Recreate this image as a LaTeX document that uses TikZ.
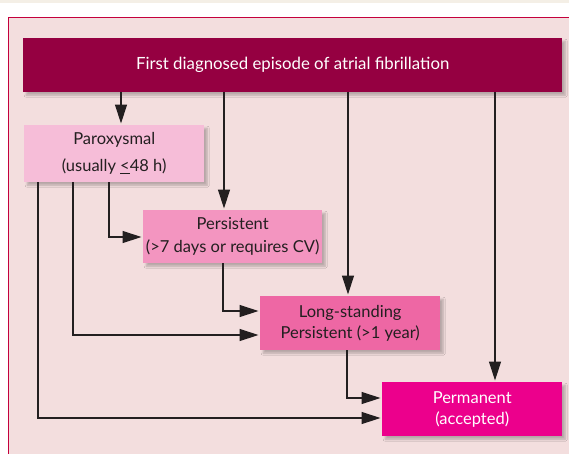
\documentclass[tikz,border=0pt]{standalone}
\usepackage{fontspec}
\setmainfont{Lato}
\usetikzlibrary{arrows.meta,shadows.blur}

\definecolor{cream}{HTML}{F4EFE6}
\definecolor{panelbg}{HTML}{F3DEDE}
\definecolor{crimson}{HTML}{C4003C}
\definecolor{wine}{HTML}{950041}
\definecolor{pinkA}{HTML}{F6BDD8}
\definecolor{pinkB}{HTML}{F395C0}
\definecolor{pinkC}{HTML}{EE67A4}
\definecolor{pinkD}{HTML}{EC008C}
\definecolor{ink}{HTML}{231F20}

\tikzset{
  stagebox/.style={anchor=north west, inner sep=0pt, align=center,
    font=\fontsize{16.5}{21}\selectfont, text=ink,
    blur shadow={shadow xshift=3pt, shadow yshift=-3pt, shadow opacity=25, shadow blur steps=6}},
  flow/.style={draw=ink, line width=1.3pt, shorten >=1.5pt,
    -{Triangle[length=19pt,width=12pt]}},
}

\begin{document}
\begin{tikzpicture}[x=1pt,y=-1pt]
\useasboundingbox (0,0) rectangle (569,453);
% page strip and outer panel
\fill[cream] (0,0) rectangle (569,3);
\fill[panelbg] (8,17) rectangle (575,460);
\draw[crimson, line width=1.2pt] (8.6,460) -- (8.6,17.6) -- (575,17.6);

% boxes
\node[stagebox, fill=wine, text=white, minimum width=539pt, minimum height=54pt,
  font=\fontsize{16.8}{21}\selectfont]
  (top) at (23,38) {First diagnosed episode of atrial fibrillation};
\node[stagebox, fill=pinkA, minimum width=180pt, minimum height=57pt,
  font=\fontsize{16.5}{27}\selectfont]
  (parox) at (24,125) {Paroxysmal\\(usually \underline{<}48 h)};
\node[stagebox, fill=pinkB, minimum width=179pt, minimum height=53pt,
  font=\fontsize{16.5}{23}\selectfont]
  (pers) at (143,210) {Persistent\\(>7 days or requires CV)};
\node[stagebox, fill=pinkC, minimum width=180pt, minimum height=54pt]
  (long) at (260,296) {Long-standing\\Persistent (>1 year)};
\node[stagebox, fill=pinkD, text=white, minimum width=180pt, minimum height=54pt]
  (perm) at (382,382) {Permanent\\(accepted)};

% connectors from the first episode
\draw[flow] (top.south -| 121,0) -- (121,0 |- parox.north);
\draw[flow] (top.south -| 224,0) -- (224,0 |- pers.north);
\draw[flow] (top.south -| 348,0) -- (348,0 |- long.north);
\draw[flow] (top.south -| 495,0) -- (495,0 |- perm.north);

% connectors from paroxysmal
\draw[flow] (parox.south -| 109,0) |- (pers.west |- 0,237);
\draw[flow] (parox.south -| 73,0) |- (long.west |- 0,335);
\draw[flow] (parox.south -| 38,0) |- (perm.west |- 0,418);

% connectors between later stages
\draw[flow] (pers.south -| 223,0) |- (long.west |- 0,311);
\draw[flow] (long.south -| 347,0) |- (perm.west |- 0,398);
\end{tikzpicture}
\end{document}
